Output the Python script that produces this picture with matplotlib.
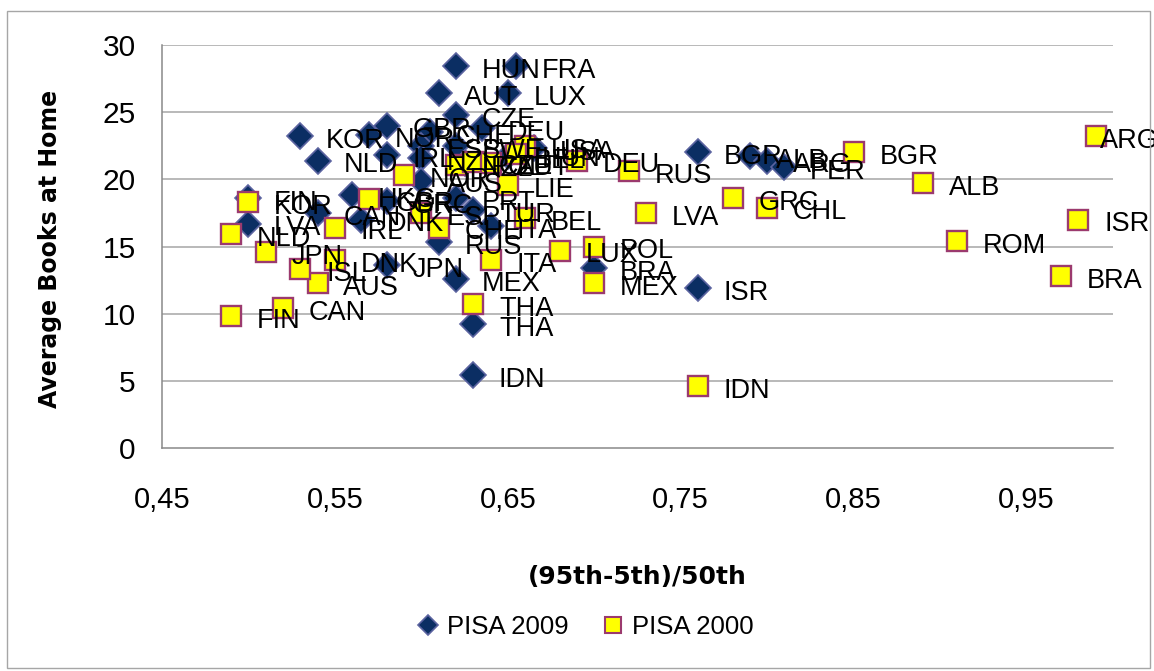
import matplotlib
matplotlib.use('Agg')
import matplotlib.pyplot as plt
from matplotlib.patches import Rectangle
from matplotlib.lines import Line2D

# PISA 2009 (diamonds)
names_2009 = ['HUN', 'FRA', 'AUT', 'LUX', 'CZE', 'GBR', 'CHE', 'DEU', 'KOR', 'NOR',
              'NLD', 'IRL', 'ESP', 'SWE', 'NZL', 'POL', 'BEL', 'USA', 'AUS', 'PRT',
              'HKG', 'GRC', 'CAN', 'FIN', 'LVA', 'DNK', 'TUR', 'ITA', 'RUS', 'JPN',
              'MEX', 'THA', 'IDN', 'BRA', 'ISR', 'BGR', 'ALB', 'ARG', 'PER']
x_2009 = [0.62, 0.655, 0.61, 0.65, 0.62, 0.58, 0.605, 0.635, 0.53, 0.57,
          0.54, 0.58, 0.60, 0.62, 0.60, 0.625, 0.65, 0.665, 0.60, 0.62,
          0.56, 0.58, 0.54, 0.50, 0.50, 0.565, 0.63, 0.64, 0.61, 0.58,
          0.62, 0.63, 0.63, 0.70, 0.76, 0.76, 0.79, 0.80, 0.81]
y_2009 = [28.4, 28.4, 26.4, 26.4, 24.8, 24.0, 23.5, 23.8, 23.2, 23.3,
          21.4, 21.8, 22.5, 22.5, 21.6, 21.2, 21.7, 22.3, 19.9, 18.6,
          18.8, 18.4, 17.5, 18.6, 16.7, 17.0, 17.7, 16.5, 15.3, 13.6,
          12.6, 9.2, 5.4, 13.4, 11.9, 22.0, 21.7, 21.4, 20.9]

# PISA 2000 (squares)
names_2000 = ['FIN', 'CAN', 'AUS', 'ISL', 'JPN', 'NLD', 'KOR', 'DNK', 'IRL', 'GBR',
              'NOR', 'NZL', 'CZE', 'AUT', 'USA', 'HUN', 'DEU', 'LIE', 'ESP', 'CHE',
              'BEL', 'ITA', 'THA', 'LUX', 'POL', 'MEX', 'RUS', 'LVA', 'IDN', 'GRC',
              'CHL', 'BGR', 'ALB', 'ROM', 'BRA', 'ISR', 'ARG']
x_2000 = [0.49, 0.52, 0.54, 0.53, 0.51, 0.49, 0.50, 0.55, 0.55, 0.57,
          0.59, 0.62, 0.63, 0.64, 0.66, 0.655, 0.69, 0.65, 0.60, 0.61,
          0.66, 0.64, 0.63, 0.68, 0.70, 0.70, 0.72, 0.73, 0.76, 0.78,
          0.80, 0.85, 0.89, 0.91, 0.97, 0.98, 0.99]
y_2000 = [9.8, 10.4, 12.3, 13.3, 14.6, 15.9, 18.3, 14.0, 16.4, 18.5,
          20.3, 21.1, 21.3, 21.2, 22.5, 21.9, 21.4, 19.6, 17.5, 16.4,
          17.1, 14.0, 10.7, 14.7, 15.0, 12.3, 20.6, 17.5, 4.6, 18.6,
          17.9, 22.0, 19.7, 15.4, 12.8, 17.0, 23.2]

x_ticks = [0.45, 0.55, 0.65, 0.75, 0.85, 0.95]
x_tick_labels = ['0,45', '0,55', '0,65', '0,75', '0,85', '0,95']
y_ticks = [0, 5, 10, 15, 20, 25, 30]

navy = '#0B2E63'
navy_edge = '#5B63A0'
yellow = '#FFFF00'
maroon = '#9B3A6E'
grey = '#898989'
font = ['Liberation Sans', 'DejaVu Sans']

W, H = 1154, 671
fig = plt.figure(figsize=(W / 100, H / 100), dpi=100)

# chart area border
fig.patches.append(Rectangle((7 / W, 3 / H), 1143 / W, 657 / H, transform=fig.transFigure,
                             fill=False, edgecolor='#A6A6A6', linewidth=1.0))

ax = fig.add_axes([162 / W, 1 - 448 / H, (1113 - 162) / W, (448 - 45) / H])
ax.set_xlim(0.45, 1.0)
ax.set_ylim(0, 30)

ax.set_yticks(y_ticks)
ax.set_yticklabels([str(v) for v in y_ticks], family=font, fontsize=21.5)
ax.set_xticks(x_ticks)
ax.set_xticklabels(x_tick_labels, family=font, fontsize=21)
ax.tick_params(length=0)
ax.tick_params(axis='y', pad=19)
ax.tick_params(axis='x', pad=27)

for v in y_ticks[1:]:
    ax.axhline(v, color='#A6A6A6', linewidth=1.1, zorder=1)
for s in ['top', 'right']:
    ax.spines[s].set_visible(False)
for s in ['left', 'bottom']:
    ax.spines[s].set_color(grey)
    ax.spines[s].set_linewidth(1.1)

ax.plot(x_2009, y_2009, linestyle='none', marker='D', markersize=13.5,
        markerfacecolor=navy, markeredgecolor=navy_edge, markeredgewidth=1.2,
        zorder=3, clip_on=False)
ax.plot(x_2000, y_2000, linestyle='none', marker='s', markersize=14.2,
        markerfacecolor=yellow, markeredgecolor=maroon, markeredgewidth=1.7,
        zorder=4, clip_on=False)

# data labels to the right of each marker (Excel pulls the last one back inside)
for xs, ys, names in [(x_2009, y_2009, names_2009), (x_2000, y_2000, names_2000)]:
    for xv, yv, name in zip(xs, ys, names):
        dx = 18.5
        if xv > 0.985:
            dx = 3
        ax.annotate(name, (xv, yv), xytext=(dx, -8.5), textcoords='offset points',
                    ha='left', va='baseline', fontsize=19.5, family=font,
                    color='black', zorder=6, annotation_clip=False)

fig.text(637 / W, 1 - 577 / H, '(95th-5th)/50th', ha='center', va='center',
         fontsize=18, fontweight='bold', family='DejaVu Sans')
fig.text(50 / W, 1 - 249 / H, 'Average Books at Home', ha='center', va='center',
         rotation=90, fontsize=17, fontweight='bold', family='DejaVu Sans')

# legend
handles = [Line2D([], [], linestyle='none', marker='D', markersize=10,
                  markerfacecolor=navy, markeredgecolor=navy_edge, markeredgewidth=1.2),
           Line2D([], [], linestyle='none', marker='s', markersize=11,
                  markerfacecolor=yellow, markeredgecolor=maroon, markeredgewidth=1.5)]
fig.legend(handles, ['PISA 2009', 'PISA 2000'], loc='center', ncol=2,
           bbox_to_anchor=(587 / W, 1 - 627 / H), frameon=False,
           prop={'family': font, 'size': 18.5}, handlelength=0.6, handletextpad=0.45,
           columnspacing=1.4)

fig.savefig('out.png', dpi=100)
